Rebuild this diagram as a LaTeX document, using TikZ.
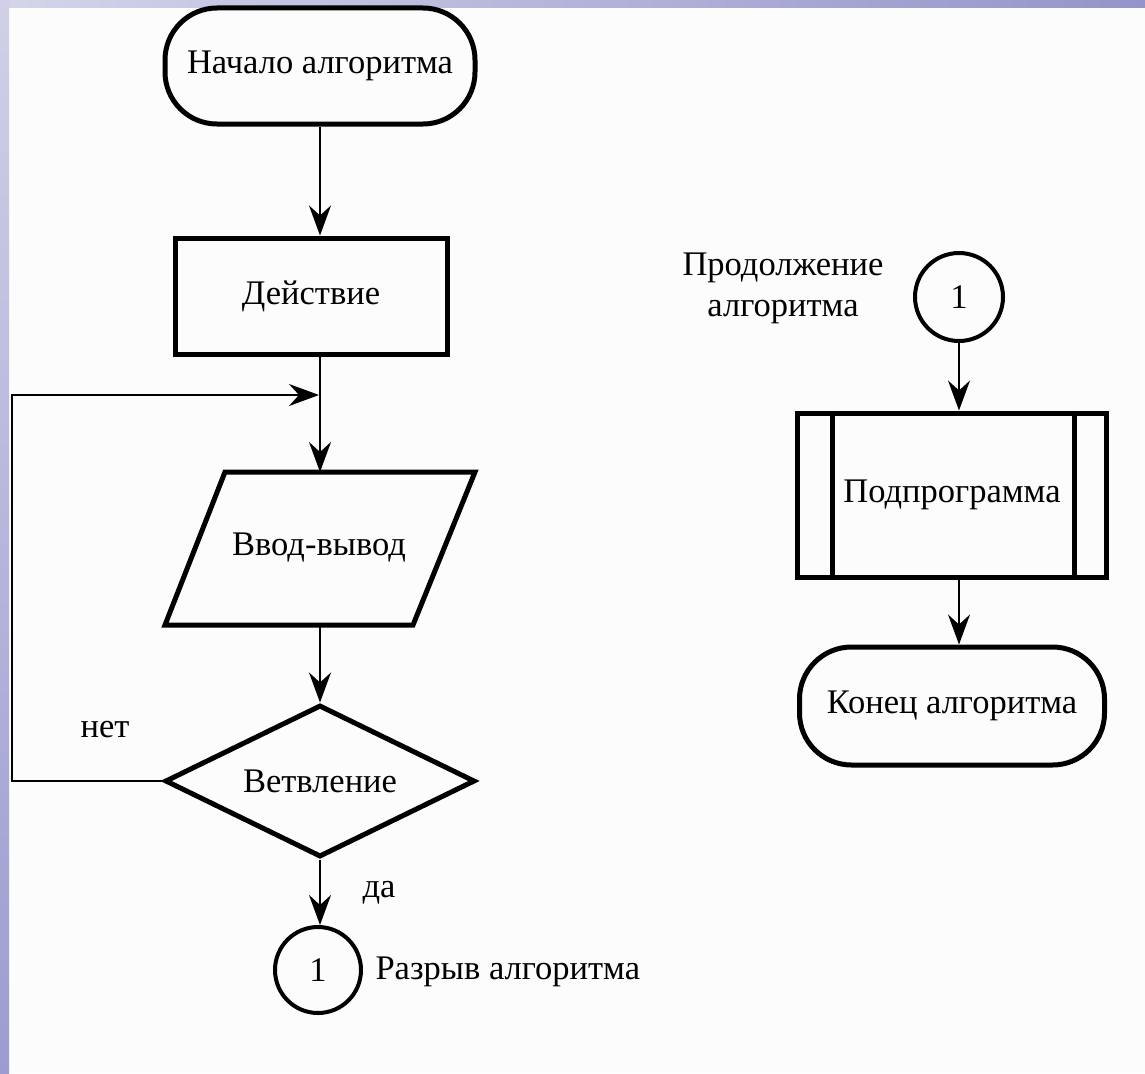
\documentclass[tikz,border=0pt]{standalone}
\usepackage{fontspec}
\setmainfont{Liberation Serif}
\usetikzlibrary{shapes.geometric,arrows.meta}
\tikzset{
  blockbox/.style={draw, line width=5, minimum width=272, minimum height=116, inner sep=0},
  termbox/.style={blockbox, rounded corners=52},
  edge5/.style={line width=5, line join=miter},
  choicebox/.style={draw, line width=5, diamond, aspect=2.04, minimum width=310, minimum height=152, inner sep=0},
  joint/.style={draw, line width=4, circle, minimum size=86, inner sep=0},
  arr/.style={line width=2, -{Stealth[length=30,width=22,inset=10]}}
}
\begin{document}
\begin{tikzpicture}[x=1pt, y=-1pt, font=\fontsize{34.5}{41}\selectfont]
\useasboundingbox (0,0) rectangle (1145,1073);
\fill[white!99!black] (0,0) rectangle (1145,1073);
\shade[left color={rgb,255:red,212;green,212;blue,234}, right color={rgb,255:red,148;green,148;blue,202}] (0,0) rectangle (1145,8);
\shade[top color={rgb,255:red,208;green,208;blue,232}, bottom color={rgb,255:red,156;green,156;blue,208}] (0,0) rectangle (9,1073);

\node[termbox, minimum width=310] (start) at (320,66) {Начало алгоритма};
\node[blockbox] (action) at (311,296) {Действие};
\coordinate (ionw) at (225,472);
\coordinate (ione) at (475,472);
\coordinate (iose) at (413,625);
\coordinate (iosw) at (165,625);
\coordinate (iotop) at (320,472);
\coordinate (iobot) at (320,625);
\draw[edge5] (ionw) -- (ione) -- (iose) -- (iosw) -- cycle;
\node (io) at (319,548) {Ввод-вывод};
\node[choicebox] (choice) at (320,781) {Ветвление};
\node[joint] (brk) at (318,970) {1};
\node (brklabel) [anchor=west] at (372,972) {Разрыв алгоритма};
\node (no) at (105,730) {нет};
\node (yes) at (379,893) {да};
\coordinate (loop) at (319,395);
\coordinate (lcorner) at (12,395);

\node[joint, minimum size=88] (cont) at (959,297) {1};
\node (contlabel) [align=center] at (783,288) {Продолжение\\алгоритма};
\node[blockbox, minimum width=309, minimum height=164] (sub) at (952,495) {Подпрограмма};
\draw[line width=5] ([xshift=37]sub.north west) -- ([xshift=37]sub.south west);
\draw[line width=5] ([xshift=-35]sub.north east) -- ([xshift=-35]sub.south east);
\node[termbox, minimum width=305, minimum height=118] (fin) at (952,706) {Конец алгоритма};

\draw[arr] (start.south) -- (start.south |- action.north);
\draw[arr] (action.south -| iotop) -- (iotop);
\draw[arr] (iobot) -- (choice.north);
\draw[arr] (choice.south) -- (brk.north -| choice.south);
\draw[arr] (choice.west) -| (lcorner) -- (loop);

\draw[arr] (cont.south) -- (cont.south |- sub.north);
\draw[arr] (cont.south |- sub.south) -- (cont.south |- fin.north);

\end{tikzpicture}
\end{document}
